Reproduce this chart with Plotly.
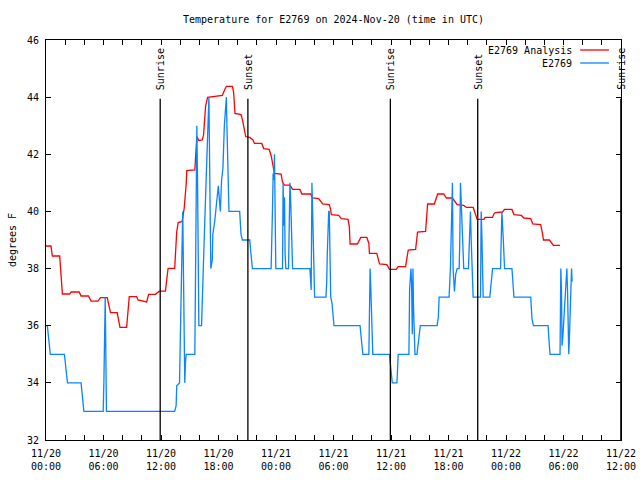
import pandas as pd
import plotly.graph_objects as go

# ---- data (hours after 2024-11-20 00:00 UTC, temperature in deg F) ----
analysis_hours = [0, 0.52, 0.66, 1.43, 1.71, 2.48, 2.62, 3.46, 3.66, 4.43, 4.71, 5.41, 5.69, 6.39,
                  6.73, 7.43, 7.72, 8.41, 8.69, 9.46, 9.60, 10.50, 10.71, 11.41, 11.83, 12.46,
                  12.74, 13.43, 13.64, 13.79, 14.21, 14.42, 14.63, 14.69, 15.53, 15.60, 15.74,
                  15.95, 16.30, 16.44, 16.65, 16.86, 17.56, 17.91, 18.40, 18.61, 18.82, 19.45,
                  19.58, 19.72, 20.35, 20.49, 20.63, 20.84, 21.26, 21.60, 21.75, 22.51, 22.72,
                  23.28, 23.49, 23.63, 23.84, 24.53, 24.68, 24.89, 25.45, 25.73, 26.49, 26.70,
                  27.61, 27.82, 28.45, 28.87, 29.56, 29.71, 29.77, 30.54, 30.82, 31.52, 31.65,
                  31.73, 32.49, 32.85, 33.48, 33.69, 33.75, 34.52, 34.80, 35.57, 35.85, 36.54,
                  36.75, 37.52, 37.73, 37.80, 38.57, 38.71, 38.77, 39.61, 39.76, 39.82, 40.52,
                  40.73, 40.87, 41.50, 41.78, 42.41, 42.62, 42.90, 43.59, 43.87, 44.58, 44.79,
                  44.99, 45.69, 45.83, 46.60, 46.73, 46.88, 47.64, 47.85, 48.62, 48.83, 49.60,
                  49.87, 50.58, 50.79, 51.62, 51.83, 51.91, 52.53, 52.81, 52.95, 53.64]
analysis_temp = [38.79, 38.79, 38.44, 38.44, 37.11, 37.11, 37.18, 37.18, 37.04, 37.04, 36.86, 36.86,
                 36.98, 36.98, 36.46, 36.46, 35.94, 35.94, 37.02, 37.02, 36.90, 36.83, 37.10, 37.10,
                 37.21, 37.21, 38.01, 38.01, 39.29, 39.61, 39.65, 40.11, 40.96, 41.43, 41.45, 41.76,
                 42.62, 42.48, 42.50, 42.67, 43.67, 43.99, 44.02, 44.06, 44.06, 44.23, 44.38, 44.38,
                 44.16, 43.43, 43.39, 43.22, 42.97, 42.62, 42.59, 42.50, 42.38, 42.38, 42.20, 42.17,
                 41.96, 41.68, 41.33, 41.31, 41.03, 40.92, 40.92, 40.77, 40.77, 40.61, 40.61, 40.47,
                 40.45, 40.26, 40.24, 40.05, 39.89, 39.86, 39.75, 39.72, 39.47, 38.86, 38.86, 39.09,
                 39.09, 38.88, 38.53, 38.53, 38.16, 38.14, 37.97, 37.97, 38.07, 38.07, 38.44, 38.65,
                 38.67, 39.07, 39.28, 39.30, 39.84, 40.26, 40.26, 40.47, 40.61, 40.61, 40.47, 40.47,
                 40.38, 40.24, 40.21, 40.14, 40.14, 39.91, 39.72, 39.72, 39.79, 39.79, 39.91, 39.96,
                 39.98, 40.07, 40.07, 39.89, 39.86, 39.77, 39.75, 39.56, 39.54, 39.19, 39.00, 39.00,
                 38.88, 38.81, 38.81]

station_hours = [0, 0.14, 0.45, 1.92, 2.24, 3.66, 3.95, 5.97, 6.04, 6.10, 6.18, 6.31, 13.43, 13.58,
                 13.64, 13.93, 14.00, 14.14, 14.21, 14.27, 14.48, 14.55, 14.63, 15.53, 15.60, 15.67,
                 15.74, 15.81, 15.88, 15.95, 16.23, 16.30, 16.44, 16.72, 16.86, 17.00, 17.14, 17.20,
                 17.35, 17.41, 17.62, 17.70, 17.83, 17.98, 18.12, 18.19, 18.32, 18.46, 18.61, 18.74,
                 18.82, 18.88, 19.03, 19.09, 20.21, 20.35, 20.49, 21.26, 21.39, 21.54, 23.49, 23.56,
                 23.63, 23.70, 23.77, 23.84, 23.91, 23.98, 24.68, 24.74, 24.82, 24.89, 24.95, 25.03,
                 25.31, 25.37, 25.45, 25.52, 25.58, 25.65, 25.73, 27.54, 27.61, 27.67, 27.75, 27.82,
                 27.88, 27.96, 28.03, 29.21, 29.29, 29.35, 29.42, 29.50, 29.56, 29.63, 29.71, 29.84,
                 29.92, 30.05, 32.77, 32.91, 33.06, 33.69, 33.75, 33.82, 33.90, 33.96, 34.03, 34.10,
                 35.84, 35.92, 36.05, 36.13, 36.62, 36.75, 37.87, 37.94, 38.08, 38.15, 38.22, 38.29,
                 38.35, 38.50, 38.71, 38.85, 38.99, 39.06, 40.81, 40.94, 41.02, 42.06, 42.20, 42.34,
                 42.41, 42.48, 42.62, 42.75, 42.90, 43.11, 43.17, 43.25, 43.38, 43.46, 43.59, 44.08,
                 44.22, 44.29, 44.37, 44.50, 44.57, 45.34, 45.41, 45.48, 45.55, 45.62, 46.31, 46.46,
                 46.60, 47.43, 47.51, 47.57, 47.72, 47.85, 48.62, 48.76, 48.83, 50.58, 50.71, 50.86,
                 52.39, 52.53, 52.60, 53.64, 53.72, 53.79, 53.85, 53.93, 54.06, 54.21, 54.27, 54.35,
                 54.42, 54.48, 54.55, 54.62, 54.69, 54.76, 54.84, 54.90]
station_temp = [36, 36, 35, 35, 34, 34, 33, 33, 34, 36, 37, 33, 33, 33.2,
                33.9, 34, 35, 37, 39, 40, 34, 34.7, 35, 35, 37, 41.2,
                43, 41.2, 39, 36, 36, 37, 38.3, 41.2, 43, 44, 39.64, 38,
                38.3, 39.2, 39.7, 40, 40.5, 40.9, 40.3, 40, 41.1, 41.5, 43, 43.9,
                44, 43, 41, 40, 40, 39.2, 39, 39, 38.5, 38, 38, 38.7,
                40, 41.33, 41.1, 42, 40, 38, 38, 41, 39.5, 40.5, 38.5, 38,
                38, 39, 41, 40.5, 39.5, 38.5, 38, 38, 37.7, 37.25, 41, 40,
                39, 38, 37, 37, 37.5, 38.5, 39.5, 40, 40, 38, 37, 36.8,
                36.5, 36, 36, 35.5, 35, 35, 36.55, 38, 37.25, 36.55, 35.7, 35,
                35, 34.7, 34.24, 34, 34, 35, 35, 37.25, 38, 37.5, 35.7, 38,
                36.67, 35, 35, 35.5, 35.8, 36, 36, 36.3, 37, 37, 38, 40,
                41, 38, 37.2, 37.8, 38, 38, 38.8, 41, 40, 39, 38, 38,
                39, 40, 39, 37.7, 37, 37, 40, 39.2, 37.7, 37, 37, 37.5,
                38, 38, 39.5, 40, 39, 38, 38, 37.25, 37, 37, 36.25, 36,
                36, 35.27, 35, 35, 38, 37.25, 35.3, 35.6, 36.5, 37.25, 37.8, 38,
                37.25, 35.7, 35, 35.6, 36.5, 37.25, 38, 37.55]

sun_labels = ["Sunrise", "Sunset", "Sunrise", "Sunset", "Sunrise"]
sun_times = ["2024-11-20 11:55", "2024-11-20 21:04", "2024-11-21 11:56",
             "2024-11-21 21:03", "2024-11-22 11:59"]

tick_hours = [0, 6, 12, 18, 24, 30, 36, 42, 48, 54, 60]
tick_text = ["11/20<br>00:00", "11/20<br>06:00", "11/20<br>12:00", "11/20<br>18:00",
             "11/21<br>00:00", "11/21<br>06:00", "11/21<br>12:00", "11/21<br>18:00",
             "11/22<br>00:00", "11/22<br>06:00", "11/22<br>12:00"]
y_ticks = [32, 34, 36, 38, 40, 42, 44, 46]

# ---- figure ----
base = pd.Timestamp("2024-11-20 00:00")
def to_time(hours):
    return base + pd.to_timedelta(pd.Series(hours, dtype=float), unit="h")

FONT = "DejaVu Sans Mono, Liberation Mono, monospace"
RED = "#ff0000"
BLUE = "#0a84ff"

fig = go.Figure()
fig.add_trace(go.Scatter(x=to_time(analysis_hours), y=analysis_temp, mode="lines",
                         name="E2769 Analysis", line=dict(color=RED, width=1.3)))
fig.add_trace(go.Scatter(x=to_time(station_hours), y=station_temp, mode="lines",
                         name="E2769", line=dict(color=BLUE, width=1.3)))

for lbl, t in zip(sun_labels, sun_times):
    ts = pd.Timestamp(t)
    fig.add_shape(type="line", xref="x", yref="paper", x0=ts, x1=ts, y0=0, y1=0.853,
                  line=dict(color="black", width=1.3))
    fig.add_annotation(x=ts, xref="x", y=0.87, yref="paper", text=lbl, textangle=-90,
                       showarrow=False, xanchor="center", yanchor="bottom",
                       font=dict(family=FONT, size=10, color="black"))

# manual gnuplot-style legend (text then line sample)
legend_items = [("E2769 Analysis", RED, 0.975), ("E2769", BLUE, 0.9425)]
for name, col, yy in legend_items:
    fig.add_annotation(x=0.918, y=yy, xref="paper", yref="paper", text=name, showarrow=False,
                       xanchor="right", yanchor="middle",
                       font=dict(family=FONT, size=10, color="black"))
    fig.add_shape(type="line", xref="paper", yref="paper", x0=0.929, x1=0.979, y0=yy, y1=yy,
                  line=dict(color=col, width=1.3))

fig.update_layout(
    width=640, height=480,
    margin=dict(l=46, r=19, t=40, b=40, autoexpand=False),
    paper_bgcolor="white", plot_bgcolor="white",
    showlegend=False,
    font=dict(family=FONT, size=10, color="black"),
    title=dict(text="Temperature for E2769 on 2024-Nov-20 (time in UTC)",
               x=0.5, xref="paper", xanchor="center",
               y=1 - 19 / 480, yref="container", yanchor="middle", automargin=False,
               font=dict(family=FONT, size=10, color="black")),
)
fig.update_xaxes(
    range=[base, base + pd.Timedelta(hours=60)], automargin=False,
    tickmode="array", tickvals=list(to_time(tick_hours)), ticktext=tick_text,
    ticks="inside", ticklen=5, tickcolor="black", tickwidth=1,
    minor=dict(tickmode="linear", tick0=base, dtick=2 * 3600 * 1000, ticks="inside",
               ticklen=5, tickcolor="black", tickwidth=1, showgrid=False),
    showline=True, linecolor="black", linewidth=1, mirror="allticks",
    showgrid=False, zeroline=False, ticklabelstandoff=4,
)
fig.update_yaxes(
    range=[32, 46], automargin=False, tickmode="array", tickvals=y_ticks,
    ticks="inside", ticklen=5, tickcolor="black", tickwidth=1,
    showline=True, linecolor="black", linewidth=1, mirror="allticks",
    showgrid=False, zeroline=False,
    title=dict(text="degrees F", standoff=8, font=dict(family=FONT, size=10)),
    ticklabelstandoff=4,
)

fig.write_html("out.html", config={"displayModeBar": False},
               post_script="document.body.style.margin='0';document.body.style.overflow='hidden';")
